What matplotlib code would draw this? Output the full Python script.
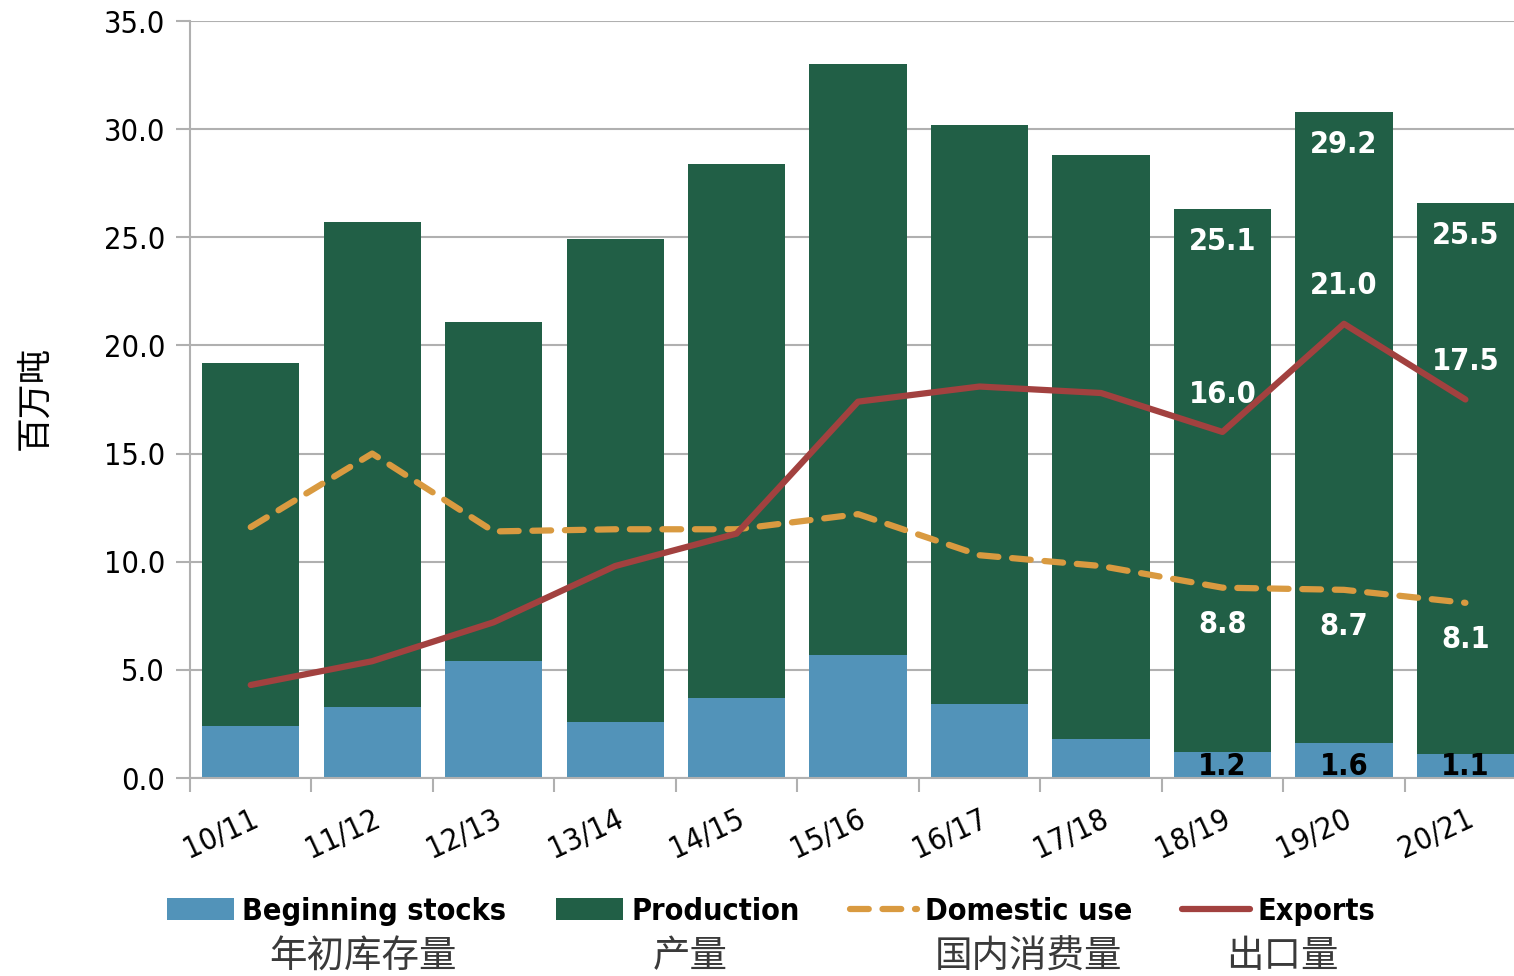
import matplotlib.pyplot as plt
import numpy as np

# Datos (millones de toneladas)
campanas = ["10/11", "11/12", "12/13", "13/14", "14/15", "15/16",
            "16/17", "17/18", "18/19", "19/20", "20/21"]
stocks = [2.4, 3.3, 5.4, 2.6, 3.7, 5.7, 3.4, 1.8, 1.2, 1.6, 1.1]
produccion = [16.8, 22.4, 15.7, 22.3, 24.7, 27.3, 26.8, 27.0, 25.1, 29.2, 25.5]
consumo = [11.6, 15.0, 11.4, 11.5, 11.5, 12.2, 10.3, 9.8, 8.8, 8.7, 8.1]
exportaciones = [4.3, 5.4, 7.2, 9.8, 11.3, 17.4, 18.1, 17.8, 16.0, 21.0, 17.5]

leyenda_en = ["Beginning stocks", "Production", "Domestic use", "Exports"]
leyenda_cn = ["年初库存量", "产量", "国内消费量", "出口量"]

azul = "#5293b9"
verde = "#215f46"
naranja = "#d99a40"
rojo = "#a2413f"
gris = "#b0b0b0"

fuente = {"family": "DejaVu Sans", "stretch": "condensed"}

fig = plt.figure(figsize=(15.14, 9.76), dpi=100)
ax = fig.add_axes([190 / 1514, 1 - 778 / 976, 1 - 190 / 1514, (778 - 21) / 976])

x = np.arange(len(campanas))
b1 = ax.bar(x, stocks, width=0.8, color=azul, zorder=2)
b2 = ax.bar(x, produccion, width=0.8, bottom=stocks, color=verde, zorder=2)
l1, = ax.plot(x, consumo, color=naranja, lw=4.5, dashes=(3, 2.2),
              dash_capstyle="round", zorder=3)
l2, = ax.plot(x, exportaciones, color=rojo, lw=4.5, solid_capstyle="round", zorder=4)

# Etiquetas en las tres últimas campañas
for i in range(8, 11):
    total = stocks[i] + produccion[i]
    ax.text(x[i], total - 1.5, f"{produccion[i]:.1f}", ha="center", va="center",
            color="white", fontsize=22, fontweight="bold", **fuente)
    ax.text(x[i], exportaciones[i] + 1.75, f"{exportaciones[i]:.1f}", ha="center",
            va="center", color="white", fontsize=22, fontweight="bold", **fuente)
    ax.text(x[i], consumo[i] - 1.7, f"{consumo[i]:.1f}", ha="center", va="center",
            color="white", fontsize=22, fontweight="bold", **fuente)
    ax.text(x[i], 0.55, f"{stocks[i]:.1f}", ha="center", va="center",
            color="black", fontsize=22, fontweight="bold", **fuente)

ax.set_yticks(np.arange(0, 35.1, 5))
ax.set_yticklabels([f"{v:.1f}" for v in np.arange(0, 35.1, 5)], fontsize=22, **fuente)
ax.yaxis.grid(True, color=gris, lw=1.5, zorder=0)
ax.set_axisbelow(True)

ax.set_xticks(x)
ax.set_xticklabels(campanas, fontsize=22, rotation=25, ha="right",
                   rotation_mode="anchor", **fuente)
ax.set_xticks(np.arange(-0.5, len(campanas), 1), minor=True)
ax.tick_params(axis="x", which="major", length=0, pad=19)
ax.tick_params(axis="x", which="minor", length=10, width=1.5, color=gris)
ax.tick_params(axis="y", length=10, width=1.5, color=gris, pad=8)

# límites después de los ticks (set_xticks amplía la vista)
ax.set_xlim(-0.5, len(campanas) - 0.6)
ax.set_ylim(0, 35)

for lado in ["top", "right"]:
    ax.spines[lado].set_visible(False)
for lado in ["left", "bottom"]:
    ax.spines[lado].set_color(gris)
    ax.spines[lado].set_linewidth(1.5)

fig.text(35 / 1514, 1 - 398 / 976, "百万吨", rotation=90, ha="center", va="center",
         fontsize=25, family="Noto Sans CJK SC")

# Leyenda: inglés en la leyenda, chino debajo
leg = fig.legend([b1, b2, l1, l2], leyenda_en, loc="center",
                 bbox_to_anchor=(771 / 1514, 1 - 911 / 976), ncol=4, frameon=False,
                 handlelength=2.2, handletextpad=0.25, columnspacing=1.65,
                 prop={"family": "DejaVu Sans", "stretch": "condensed",
                       "weight": "bold", "size": 22})
centros_cn = [363, 690, 1028, 1282]
for cx, txt in zip(centros_cn, leyenda_cn):
    fig.text(cx / 1514, 1 - 957 / 976, txt, ha="center", va="center", fontsize=27,
             color="#3a3a3a", family="Noto Sans CJK SC")

plt.savefig("out.png", dpi=100)
